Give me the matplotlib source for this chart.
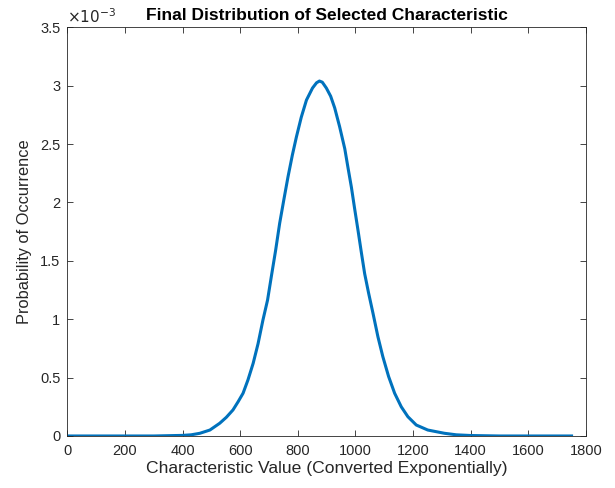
import matplotlib
matplotlib.use("Agg")
import matplotlib.pyplot as plt
from matplotlib.ticker import FuncFormatter, MultipleLocator

plt.rcParams['font.family'] = ['Liberation Sans', 'DejaVu Sans']

# values: characteristic value and probability (in units of 1e-3)
x_vals = [0, 200, 300, 400, 430, 460, 495, 529, 552, 575, 593, 610, 627, 645,
          662, 679, 695, 708, 723, 737, 752, 766, 781, 795, 812, 830, 851, 865,
          875, 885, 899, 914, 928, 945, 963, 974, 986, 997, 1009, 1020, 1032,
          1046, 1061, 1078, 1095, 1115, 1136, 1159, 1182, 1211, 1251, 1309, 1350,
          1400, 1500, 1600, 1750]
p_vals_e3 = [0, 0, 0, 0.005, 0.010, 0.023, 0.051, 0.109, 0.16, 0.223, 0.294,
             0.366, 0.48, 0.622, 0.79, 0.993, 1.164, 1.364, 1.59, 1.821, 2.03,
             2.22, 2.405, 2.56, 2.73, 2.877, 2.98, 3.025, 3.04, 3.03, 2.98, 2.91,
             2.81, 2.65, 2.46, 2.30, 2.13, 1.95, 1.76, 1.58, 1.39, 1.22, 1.05,
             0.85, 0.68, 0.51, 0.366, 0.25, 0.165, 0.094, 0.051, 0.023, 0.010,
             0.004, 0, 0, 0]
scale = 1e-3
p_vals = [v * scale for v in p_vals_e3]

fig = plt.figure(figsize=(6.15, 4.88), dpi=100)
ax = fig.add_axes([0.1094, 0.1066, 0.8434, 0.8374])
ax.plot(x_vals, p_vals, color='#0072BD', linewidth=2.2, solid_joinstyle='round')

ax.set_xlim(0, 1800)
ax.set_ylim(0, 3.5e-3)
ax.xaxis.set_major_locator(MultipleLocator(200))
ax.yaxis.set_major_locator(MultipleLocator(0.5e-3))
ax.yaxis.set_major_formatter(FuncFormatter(lambda v, p: f"{v/scale:g}"))

grey = '#262626'
ax.tick_params(direction='in', top=True, right=True, length=4, width=0.6,
               colors=grey, labelsize=10.5)
ax.tick_params(axis='x', pad=6)
ax.tick_params(axis='y', pad=5)
for s in ax.spines.values():
    s.set_color(grey)
    s.set_linewidth(0.6)

ax.set_xlabel('Characteristic Value (Converted Exponentially)', fontsize=12.6,
              color=grey, labelpad=2)
ax.set_ylabel('Probability of Occurrence', fontsize=11.8, color=grey, labelpad=6)
ax.set_title('Final Distribution of Selected Characteristic', fontsize=12.5,
             fontweight='bold', color='black', pad=5)
ax.text(0.0, 1.004, r'$\times10^{-3}$', transform=ax.transAxes, fontsize=11,
        color=grey, ha='left', va='bottom')

fig.savefig('out.png', dpi=100)
